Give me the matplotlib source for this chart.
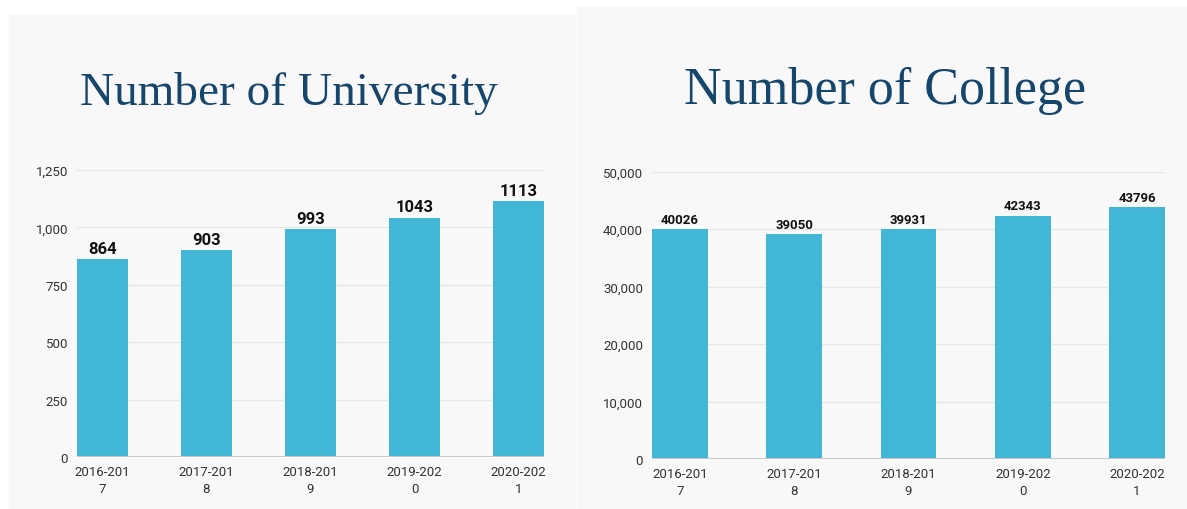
import matplotlib
matplotlib.use('Agg')
import matplotlib.pyplot as plt
from matplotlib.patches import Rectangle
from matplotlib.ticker import FuncFormatter, FixedLocator

# ---- data ----
years = ['2016-201\n7', '2017-201\n8', '2018-201\n9', '2019-202\n0', '2020-202\n1']
university = [864, 903, 993, 1043, 1113]
college = [40026, 39050, 39931, 42343, 43796]
uni_ticks = [0, 250, 500, 750, 1000, 1250]
col_ticks = [0, 10000, 20000, 30000, 40000, 50000]
titles = ['Number of University', 'Number of College']

W, H = 1187, 510
BAR = '#41b6d6'
PANEL = '#f8f8f8'
TITLE_C = '#16466b'
SANS = ['Roboto', 'DejaVu Sans']
SERIF = ['Liberation Serif', 'DejaVu Serif']

fig = plt.figure(figsize=(W / 100, H / 100), dpi=100, facecolor='white')


def frac(x0, y0, x1, y1):
    return [x0 / W, 1 - y1 / H, (x1 - x0) / W, (y1 - y0) / H]


# panels
for (x0, y0, x1, y1) in [(9, 16, 576, 510), (577, 8, 1187, 510)]:
    l, b, w, h = frac(x0, y0, x1, y1)
    fig.add_artist(Rectangle((l, b), w, h, transform=fig.transFigure,
                             facecolor=PANEL, edgecolor='none', zorder=0))

# titles
fig.text(289 / W, 1 - 105 / H, titles[0], ha='center', va='baseline',
         fontsize=34, family=SERIF, color=TITLE_C)
fig.text(885 / W, 1 - 104 / H, titles[1], ha='center', va='baseline',
         fontsize=37.5, family=SERIF, color=TITLE_C)


def make(rect, vals, ticks, lab_size):
    ax = fig.add_axes(frac(*rect))
    ax.set_facecolor('none')
    x = list(range(len(vals)))
    ax.bar(x, vals, width=0.49, color=BAR, zorder=3)
    ax.set_xlim(-0.245, len(vals) - 1 + 0.245)
    ax.set_ylim(ticks[0], ticks[-1])
    ax.yaxis.set_major_locator(FixedLocator(ticks))
    ax.yaxis.set_major_formatter(FuncFormatter(lambda v, p: f'{v:,.0f}'))
    ax.grid(axis='y', color='#e6e6e6', lw=0.9, zorder=0)
    ax.set_axisbelow(True)
    for s in ax.spines.values():
        s.set_visible(False)
    ax.axhline(0, color='#c9c9c9', lw=1.4, zorder=4)
    ax.set_xticks(x)
    ax.set_xticklabels(years, family=SANS, fontsize=9.5, color='#333333',
                       linespacing=1.4)
    for t in ax.get_yticklabels():
        t.set_family(SANS)
        t.set_fontsize(9.5)
        t.set_color('#333333')
    ax.tick_params(axis='both', length=0)
    ax.tick_params(axis='x', pad=6)
    ax.tick_params(axis='y', pad=6.5)
    for i, v in zip(x, vals):
        ax.annotate(str(v), (i, v), xytext=(0, 2.2), textcoords='offset points',
                    ha='center', va='bottom', fontweight='bold',
                    fontsize=lab_size, family=SANS, color='#111111',
                    annotation_clip=False)
    return ax


make((77, 171, 544, 458), university, uni_ticks, 12)
make((652, 172.5, 1165, 460), college, col_ticks, 9.5)

fig.savefig('out.png', dpi=100, facecolor='white')
